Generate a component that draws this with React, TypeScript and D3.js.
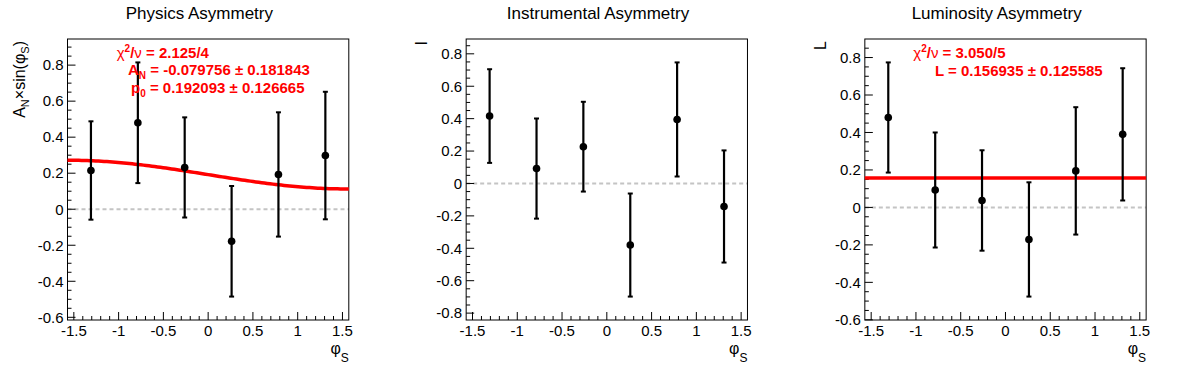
import React from "react";
import * as d3 from "d3";

const W = 1196;
const H = 372;

// bin centres of phi_S
const phiBins = [-1.309, -0.785, -0.262, 0.262, 0.785, 1.309];

const physicsValues = [0.215, 0.48, 0.232, -0.178, 0.193, 0.298];
const physicsErrors = [0.273, 0.335, 0.278, 0.307, 0.345, 0.354];

const instrumentalValues = [0.416, 0.092, 0.227, -0.38, 0.395, -0.142];
const instrumentalErrors = [0.289, 0.309, 0.277, 0.318, 0.352, 0.346];

const luminosityValues = [0.48, 0.093, 0.037, -0.171, 0.195, 0.39];
const luminosityErrors = [0.294, 0.307, 0.268, 0.305, 0.34, 0.353];

const xTickValues = [-1.5, -1, -0.5, 0, 0.5, 1, 1.5];
const panelTitles = ["Physics Asymmetry", "Instrumental Asymmetry", "Luminosity Asymmetry"];

// fit results shown in the panels
const physicsFitAN = -0.079756;
const physicsFitP0 = 0.192093;
const lumiFitL = 0.156935;

const FONT = "'Liberation Sans', Arial, Helvetica, sans-serif";
const RED = "#ff0000";

function fmt(v: number) {
  const s = String(Number(v.toFixed(2)));
  return s === "-0" ? "0" : s;
}

type PanelProps = {
  index: number;
  title: string;
  values: number[];
  errors: number[];
  yTitle: React.ReactNode;
  yTitleX: number;
  fit?: (phi: number) => number;
  stats?: React.ReactNode;
};

function Panel({ index, title, values, errors, yTitle, yTitleX, fit, stats }: PanelProps) {
  const ox = (index * W) / 3;
  const left = ox + 67.5;
  const right = ox + 348.8;
  const top = 39;
  const bottom = 320;

  const hi = d3.max(values.map((v, i) => v + errors[i])) as number;
  const lo = d3.min(values.map((v, i) => v - errors[i])) as number;
  const margin = 0.1 * (hi - lo);
  const yMin = lo - margin;
  const yMax = hi + margin;

  const x = d3.scaleLinear().domain([-Math.PI / 2, Math.PI / 2]).range([left, right]);
  const y = d3.scaleLinear().domain([yMin, yMax]).range([bottom, top]);

  const yTicks: { v: number; major: boolean }[] = [];
  for (let k = Math.ceil(yMin / 0.05 - 1e-9); k <= Math.floor(yMax / 0.05 + 1e-9); k++) {
    yTicks.push({ v: k * 0.05, major: k % 4 === 0 });
  }
  const xTicks: { v: number; major: boolean }[] = [];
  for (let k = -15; k <= 15; k++) {
    xTicks.push({ v: k * 0.1, major: k % 5 === 0 });
  }

  let fitPath: string | null = null;
  if (fit) {
    const pts = d3.range(0, 101).map((i) => {
      const phi = -Math.PI / 2 + (Math.PI * i) / 100;
      return [phi, fit(phi)] as [number, number];
    });
    fitPath = d3
      .line<[number, number]>()
      .x((d) => x(d[0]))
      .y((d) => y(d[1]))(pts);
  }

  return (
    <g>
      <text x={ox + W / 6} y={19} textAnchor="middle" fontSize={17} fontFamily={FONT} fill="#000">
        {title}
      </text>
      {/* zero line */}
      <line x1={left} x2={right} y1={y(0)} y2={y(0)} stroke="#c4c4c4" strokeWidth={2} strokeDasharray="4,3" />
      {/* frame */}
      <rect x={left} y={top} width={right - left} height={bottom - top} fill="none" stroke="#000" strokeWidth={1} />
      {/* y ticks */}
      {yTicks.map((t, i) => (
        <line key={"yt" + i} x1={left} x2={left + (t.major ? 8 : 4)} y1={y(t.v)} y2={y(t.v)} stroke="#000" strokeWidth={1} />
      ))}
      {yTicks
        .filter((t) => t.major)
        .map((t, i) => (
          <text key={"yl" + i} x={left - 4} y={y(t.v) + 5.3} textAnchor="end" fontSize={15} fontFamily={FONT} fill="#000">
            {fmt(t.v)}
          </text>
        ))}
      {/* x ticks */}
      {xTicks.map((t, i) => (
        <line key={"xt" + i} x1={x(t.v)} x2={x(t.v)} y1={bottom} y2={bottom - (t.major ? 8 : 4)} stroke="#000" strokeWidth={1} />
      ))}
      {xTickValues.map((v, i) => (
        <text key={"xl" + i} x={x(v)} y={336} textAnchor="middle" fontSize={15} fontFamily={FONT} fill="#000">
          {fmt(v)}
        </text>
      ))}
      {/* x title */}
      <text x={right} y={354} textAnchor="end" fontSize={16} fontFamily={FONT} fill="#000">
        φ
        <tspan fontSize={12} dy={8}>
          S
        </tspan>
      </text>
      {/* y title */}
      <text
        transform={`translate(${ox + yTitleX},${top + 2}) rotate(-90)`}
        textAnchor="end"
        fontSize={16}
        fontFamily={FONT}
        fill="#000"
      >
        {yTitle}
      </text>
      {/* fit */}
      {fitPath && <path d={fitPath} fill="none" stroke={RED} strokeWidth={3.5} />}
      {/* error bars */}
      {values.map((v, i) => {
        const cx = x(phiBins[i]);
        const y1 = y(v + errors[i]);
        const y2 = y(v - errors[i]);
        return (
          <g key={"p" + i}>
            <line x1={cx} x2={cx} y1={y1} y2={y2} stroke="#000" strokeWidth={2.2} />
            <line x1={cx - 2.5} x2={cx + 2.5} y1={y1} y2={y1} stroke="#000" strokeWidth={2} />
            <line x1={cx - 2.5} x2={cx + 2.5} y1={y2} y2={y2} stroke="#000" strokeWidth={2} />
            <circle cx={cx} cy={y(v)} r={3.8} fill="#000" />
          </g>
        );
      })}
      {stats}
    </g>
  );
}

function StatLine({ x, y, children }: { x: number; y: number; children: React.ReactNode }) {
  return (
    <text x={x} y={y} fontSize={15} fontWeight="bold" fontFamily={FONT} fill={RED}>
      {children}
    </text>
  );
}

export default function App() {
  const physicsStats = (
    <g>
      <StatLine x={116.7} y={57.5}>
        <tspan fontWeight="normal">χ</tspan>
        <tspan fontSize={10} dy={-6}>2</tspan>
        <tspan dy={6}>/</tspan>
        <tspan fontWeight="normal">ν</tspan> = 2.125/4
      </StatLine>
      <StatLine x={128} y={75}>
        A<tspan fontSize={10} dy={4}>N</tspan>
        <tspan dy={-4}> = -0.079756 ± 0.181843</tspan>
      </StatLine>
      <StatLine x={131} y={92.5}>
        p<tspan fontSize={10} dy={4}>0</tspan>
        <tspan dy={-4}> = 0.192093 ± 0.126665</tspan>
      </StatLine>
    </g>
  );
  const lumiStats = (
    <g>
      <StatLine x={913.3} y={58}>
        <tspan fontWeight="normal">χ</tspan>
        <tspan fontSize={10} dy={-6}>2</tspan>
        <tspan dy={6}>/</tspan>
        <tspan fontWeight="normal">ν</tspan> = 3.050/5
      </StatLine>
      <StatLine x={935} y={75.5}>
        L = 0.156935 ± 0.125585
      </StatLine>
    </g>
  );

  return (
    <svg
      width={W}
      height={H}
      viewBox={`0 0 ${W} ${H}`}
      style={{ position: "absolute", left: 0, top: 0, background: "#fff" }}
    >
      <rect x={0} y={0} width={W} height={H} fill="#fff" />
      <Panel
        index={0}
        title={panelTitles[0]}
        values={physicsValues}
        errors={physicsErrors}
        yTitleX={25}
        yTitle={
          <>
            A<tspan fontSize={11} dy={4}>N</tspan>
            <tspan dy={-4}>×sin(φ</tspan>
            <tspan fontSize={11} dy={4}>S</tspan>
            <tspan dy={-4}>)</tspan>
          </>
        }
        fit={(phi) => physicsFitP0 + physicsFitAN * Math.sin(phi)}
        stats={physicsStats}
      />
      <Panel
        index={1}
        title={panelTitles[1]}
        values={instrumentalValues}
        errors={instrumentalErrors}
        yTitleX={28}
        yTitle={"I"}
      />
      <Panel
        index={2}
        title={panelTitles[2]}
        values={luminosityValues}
        errors={luminosityErrors}
        yTitleX={28.5}
        yTitle={"L"}
        fit={() => lumiFitL}
        stats={lumiStats}
      />
    </svg>
  );
}
